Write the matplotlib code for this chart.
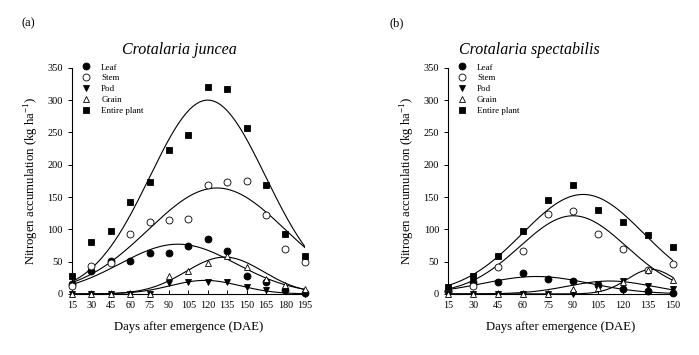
import matplotlib
matplotlib.use('Agg')
import matplotlib.pyplot as plt
import numpy as np

plt.rcParams['font.family'] = ['Liberation Serif', 'DejaVu Serif']
plt.rcParams['mathtext.fontset'] = 'custom'
plt.rcParams['mathtext.rm'] = 'Liberation Serif'

# (a) Crotalaria juncea
dae_a = [15, 30, 45, 60, 75, 90, 105, 120, 135, 150, 165, 180, 195]
leaf_a = [16, 35, 51, 51, 64, 64, 74, 85, 66, 28, 18, 6, 1]
stem_a = [13, 44, 48, 93, 111, 114, 116, 169, 173, 175, 122, 69, 50]
pod_a = [0, 0, 0, 0, 0, 17, 19, 19, 19, 10, 6, 4, 0]
grain_a = [0, 0, 0, 0, 0, 27, 36, 48, 58, 42, 23, 14, 7]
plant_a = [27, 80, 98, 143, 174, 223, 246, 320, 317, 257, 169, 93, 59]

# (b) Crotalaria spectabilis
dae_b = [15, 30, 45, 60, 75, 90, 105, 120, 135, 150]
leaf_b = [5, 18, 18, 32, 23, 20, 14, 7, 4, 2]
stem_b = [5, 12, 41, 67, 123, 128, 92, 69, 37, 46]
pod_b = [0, 0, 0, 0, 0, 0, 16, 20, 12, 7]
grain_b = [0, 0, 0, 0, 0, 7, 9, 19, 37, 21]
plant_b = [10, 27, 59, 98, 145, 168, 130, 112, 91, 72]

# fitted gaussian curves: (peak, center, width)
fit_a = {'leaf': (77, 97, 45), 'stem': (164, 127, 53), 'pod': (21, 118, 27),
         'grain': (57, 133, 30), 'plant': (300, 120, 44.7)}
fit_b = {'leaf': (27, 68, 32), 'stem': (121, 90, 32), 'pod': (20, 112, 25),
         'grain': (38, 137, 14.4), 'plant': (154, 96, 36.5)}

labels = ['Leaf', 'Stem', 'Pod', 'Grain', 'Entire plant']
keys = ['leaf', 'stem', 'pod', 'grain', 'plant']
styles = [dict(marker='o', mfc='black'), dict(marker='o', mfc='white'),
          dict(marker='v', mfc='black'), dict(marker='^', mfc='white'),
          dict(marker='s', mfc='black')]


def gauss(x, p):
    a, x0, b = p
    return a * np.exp(-0.5 * ((x - x0) / b) ** 2)


def panel(ax, dae, series, fits, title_x, title, tag, tag_x):
    x = np.linspace(dae[0], dae[-1], 300)
    for k in keys:
        ax.plot(x, gauss(x, fits[k]), color='black', lw=0.8, zorder=2)
    for lab, vals, st in zip(labels, series, styles):
        ax.plot(dae, vals, ls='none', mec='black', mew=0.6, ms=5,
                label=lab, clip_on=False, zorder=3, **st)
    ax.set_xlim(dae[0], dae[-1])
    ax.set_ylim(0, 350)
    ax.set_xticks(dae)
    ax.set_yticks(range(0, 351, 50))
    ax.spines['top'].set_visible(False)
    ax.spines['right'].set_visible(False)
    for s in ['left', 'bottom']:
        ax.spines[s].set_linewidth(0.8)
    ax.tick_params(axis='x', direction='in', length=3, width=0.7, labelsize=7.3, pad=5)
    ax.tick_params(axis='y', direction='out', length=3, width=0.7, labelsize=7.5)
    ax.set_xlabel('Days after emergence (DAE)', fontsize=9.2, labelpad=8)
    ax.set_ylabel('Nitrogen accumulation (kg ha$^{-1}$)', fontsize=9.2, labelpad=5)
    ax.legend(loc='upper left', bbox_to_anchor=(0.04, 1.02), frameon=False,
              fontsize=6.5, handlelength=1.0, handletextpad=1.2,
              labelspacing=0.28, borderpad=0, borderaxespad=0)
    fig.text(title_x, 0.86, title, style='italic', fontsize=11.5,
             ha='center', va='center')
    fig.text(tag_x, 0.935, tag, fontsize=9, ha='center', va='center')


fig = plt.figure(figsize=(6.99, 3.55), dpi=100)
ax1 = fig.add_axes([0.103, 0.172, 0.333, 0.637])
ax2 = fig.add_axes([0.641, 0.172, 0.322, 0.637])

panel(ax1, dae_a, [leaf_a, stem_a, pod_a, grain_a, plant_a], fit_a,
      179 / 699, 'Crotalaria juncea', '(a)', 28 / 699)
panel(ax2, dae_b, [leaf_b, stem_b, pod_b, grain_b, plant_b], fit_b,
      529 / 699, 'Crotalaria spectabilis', '(b)', 397 / 699)

fig.savefig('out.png', dpi=100)
